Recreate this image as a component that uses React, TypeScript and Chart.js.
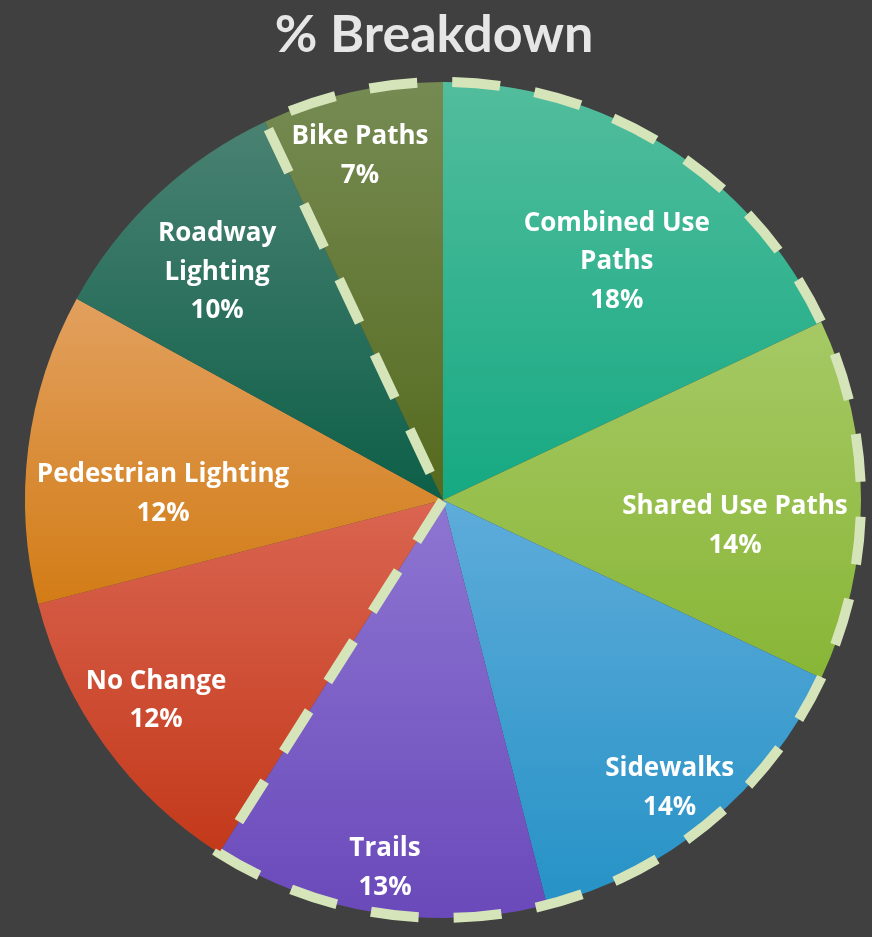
import React, { useEffect, useRef } from 'react';
import { Chart, registerables } from 'chart.js';

Chart.register(...registerables);

const TITLE = '% Breakdown';
const CATEGORIES = [
  'Combined Use Paths',
  'Shared Use Paths',
  'Sidewalks',
  'Trails',
  'No Change',
  'Pedestrian Lighting',
  'Roadway Lighting',
  'Bike Paths',
];
const LABEL_LINES = [
  ['Combined Use', 'Paths'],
  ['Shared Use Paths'],
  ['Sidewalks'],
  ['Trails'],
  ['No Change'],
  ['Pedestrian Lighting'],
  ['Roadway', 'Lighting'],
  ['Bike Paths'],
];
const PERCENTS = [18, 14, 14, 13, 12, 12, 10, 7];
const TOP_COLORS = ['#52bd9d', '#a6c965', '#5eacda', '#8e76d2', '#da6551', '#e2a05e', '#4a8272', '#768b53'];
const BOTTOM_COLORS = ['#15a982', '#88b636', '#2692c6', '#6a49ba', '#c3391a', '#d27c16', '#0d5f48', '#556a1d'];
// highlighted group (dashed outline) runs clockwise from the first to the last
const OUTLINE_FIRST = 'Bike Paths';
const OUTLINE_LAST = 'Trails';
// label placement: fraction of radius and angular shift (deg) from slice middle
const LABEL_RADIUS = [0.709, 0.701, 0.873, 0.887, 0.835, 0.67, 0.771, 0.851];
const LABEL_SHIFT = [3.5, 4.7, 1.2, 0, 1.3, -5.6, -1.3, -0.9];

const BG = '#404040';
const TITLE_FONT = 'Lato, "Open Sans", sans-serif';
const LABEL_FONT = '"Open Sans", Lato, sans-serif';

function sliceGradient(ctx: any) {
  const chart = ctx.chart;
  const area = chart.chartArea;
  const i = ctx.dataIndex;
  if (!area) return TOP_COLORS[i];
  const cy = (area.top + area.bottom) / 2;
  const r = Math.min(area.width, area.height) / 2;
  const total = PERCENTS.reduce((a, b) => a + b, 0);
  let before = 0;
  for (let k = 0; k < i; k++) before += PERCENTS[k];
  const start = -Math.PI / 2 + (2 * Math.PI * before) / total;
  const end = start + (2 * Math.PI * PERCENTS[i]) / total;
  const ys = [cy, cy + r * Math.sin(start), cy + r * Math.sin(end)];
  for (const a of [-Math.PI / 2, Math.PI / 2, (3 * Math.PI) / 2]) {
    if (a >= start && a <= end) ys.push(cy + r * Math.sin(a));
  }
  const minY = Math.min(...ys);
  const maxY = Math.max(...ys);
  const g = chart.ctx.createLinearGradient(0, minY, 0, maxY);
  g.addColorStop(0, TOP_COLORS[i]);
  g.addColorStop(1, BOTTOM_COLORS[i]);
  return g;
}

const backgroundPlugin = {
  id: 'bgFill',
  beforeDraw(chart: any) {
    const { ctx, width, height } = chart;
    ctx.save();
    ctx.fillStyle = BG;
    ctx.fillRect(0, 0, width, height);
    ctx.restore();
  },
};

const titlePlugin = {
  id: 'customTitle',
  afterDraw(chart: any) {
    const { ctx, width } = chart;
    ctx.save();
    ctx.font = `bold 52px ${TITLE_FONT}`;
    ctx.fillStyle = '#e6e6e6';
    ctx.textAlign = 'center';
    ctx.textBaseline = 'alphabetic';
    ctx.fillText(TITLE, width / 2 - 2, 52);
    ctx.restore();
  },
};

const outlinePlugin = {
  id: 'groupOutline',
  afterDatasetsDraw(chart: any) {
    const meta = chart.getDatasetMeta(0);
    const first = meta.data[CATEGORIES.indexOf(OUTLINE_FIRST)] as any;
    const last = meta.data[CATEGORIES.indexOf(OUTLINE_LAST)] as any;
    if (!first || !last) return;
    const cx = first.x;
    const cy = first.y;
    const r = first.outerRadius;
    const ctx = chart.ctx;
    ctx.save();
    ctx.beginPath();
    ctx.moveTo(cx, cy);
    ctx.lineTo(cx + r * Math.cos(first.startAngle), cy + r * Math.sin(first.startAngle));
    ctx.arc(cx, cy, r, first.startAngle, last.endAngle, false);
    ctx.lineTo(cx, cy);
    ctx.setLineDash([48, 35]);
    ctx.lineDashOffset = 53;
    ctx.lineWidth = 10;
    ctx.lineCap = 'butt';
    ctx.lineJoin = 'miter';
    ctx.strokeStyle = '#d5e4b9';
    ctx.stroke();
    ctx.restore();
  },
};

const labelPlugin = {
  id: 'sliceLabels',
  afterDatasetsDraw(chart: any) {
    const meta = chart.getDatasetMeta(0);
    const ctx = chart.ctx;
    ctx.save();
    ctx.font = `bold 26px ${LABEL_FONT}`;
    ctx.fillStyle = '#ffffff';
    ctx.textAlign = 'center';
    ctx.textBaseline = 'middle';
    const lh = 38.5;
    meta.data.forEach((arc: any, i: number) => {
      const mid = (arc.startAngle + arc.endAngle) / 2 + (LABEL_SHIFT[i] * Math.PI) / 180;
      const rad = LABEL_RADIUS[i] * arc.outerRadius;
      const x = arc.x + Math.cos(mid) * rad;
      const y = arc.y + Math.sin(mid) * rad + 2;
      const lines = [...LABEL_LINES[i], `${PERCENTS[i]}%`];
      const y0 = y - ((lines.length - 1) * lh) / 2;
      lines.forEach((t, k) => ctx.fillText(t, x, y0 + k * lh));
    });
    ctx.restore();
  },
};

export default function App() {
  const ref = useRef<HTMLCanvasElement | null>(null);
  useEffect(() => {
    if (!ref.current) return;
    const chart = new Chart(ref.current, {
      type: 'pie',
      data: {
        labels: CATEGORIES,
        datasets: [
          {
            data: PERCENTS,
            backgroundColor: sliceGradient as any,
            borderWidth: 0,
          },
        ],
      },
      options: {
        responsive: false,
        animation: false,
        layout: { padding: { top: 82, bottom: 19, left: 25, right: 11 } },
        plugins: {
          legend: { display: false },
          title: { display: false },
          tooltip: { enabled: false },
        },
        events: [],
      },
      plugins: [backgroundPlugin, outlinePlugin, labelPlugin, titlePlugin],
    });
    return () => chart.destroy();
  }, []);
  return (
    <div style={{ position: 'fixed', left: 0, top: 0, width: 872, height: 937, background: BG }}>
      <canvas ref={ref} width={872} height={937} style={{ display: 'block' }} />
    </div>
  );
}
